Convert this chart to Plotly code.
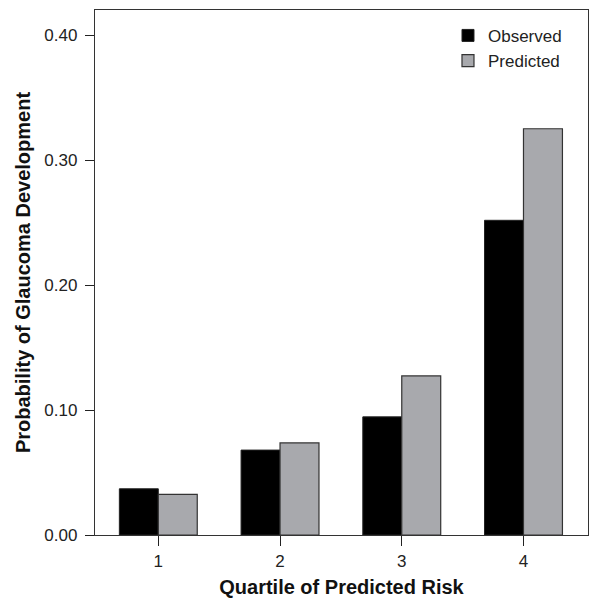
import plotly.graph_objects as go

quartiles = ["1", "2", "3", "4"]
observed = [0.037, 0.068, 0.0946, 0.252]
predicted = [0.0325, 0.0737, 0.1274, 0.3253]
y_ticks = [0.0, 0.1, 0.2, 0.3, 0.4]
y_tick_text = ["0.00", "0.10", "0.20", "0.30", "0.40"]

x_pos = [1, 2, 3, 4]

fig = go.Figure()
fig.add_trace(go.Bar(x=x_pos, y=observed, name="Observed",
                     marker=dict(color="#000000", line=dict(color="#222222", width=1))))
fig.add_trace(go.Bar(x=x_pos, y=predicted, name="Predicted",
                     marker=dict(color="#a8a9ad", line=dict(color="#333333", width=1.2))))

font = "Liberation Sans, Arial, sans-serif"
# page body has an 8px default margin on every side; size the figure so no scrollbars appear
fig.update_layout(
    width=582, height=596,
    margin=dict(l=87, r=1.5, t=2, b=69, autoexpand=False),
    plot_bgcolor="white", paper_bgcolor="white",
    barmode="group", bargap=0.36, bargroupgap=0,
    font=dict(family=font, size=17, color="#222222"),
    showlegend=True,
    legend=dict(x=0.716, y=0.985, xanchor="left", yanchor="top",
                bgcolor="rgba(0,0,0,0)", font=dict(size=17, color="#222222"),
                itemwidth=30, tracegroupgap=0),
    xaxis=dict(range=[0.48, 4.53], tickmode="array", tickvals=x_pos, ticktext=quartiles,
               ticks="outside", ticklen=10, tickcolor="#222222", tickwidth=1.2,
               showline=True, linecolor="#333333", linewidth=1.3, mirror=True,
               showgrid=False, zeroline=False,
               title=dict(text="<b>Quartile of Predicted Risk</b>", font=dict(size=20, color="#111111"), standoff=10)),
    yaxis=dict(range=[0, 0.4204], tickmode="array", tickvals=y_ticks, ticktext=y_tick_text,
               ticks="outside", ticklen=9, tickcolor="#222222", tickwidth=1.2,
               ticklabelstandoff=4,
               showline=True, linecolor="#333333", linewidth=1.3, mirror=True,
               showgrid=False, zeroline=False,
               title=dict(text="<b>Probability of Glaucoma Development</b>", font=dict(size=20, color="#111111"), standoff=8)),
)

fig.write_html("out.html")
